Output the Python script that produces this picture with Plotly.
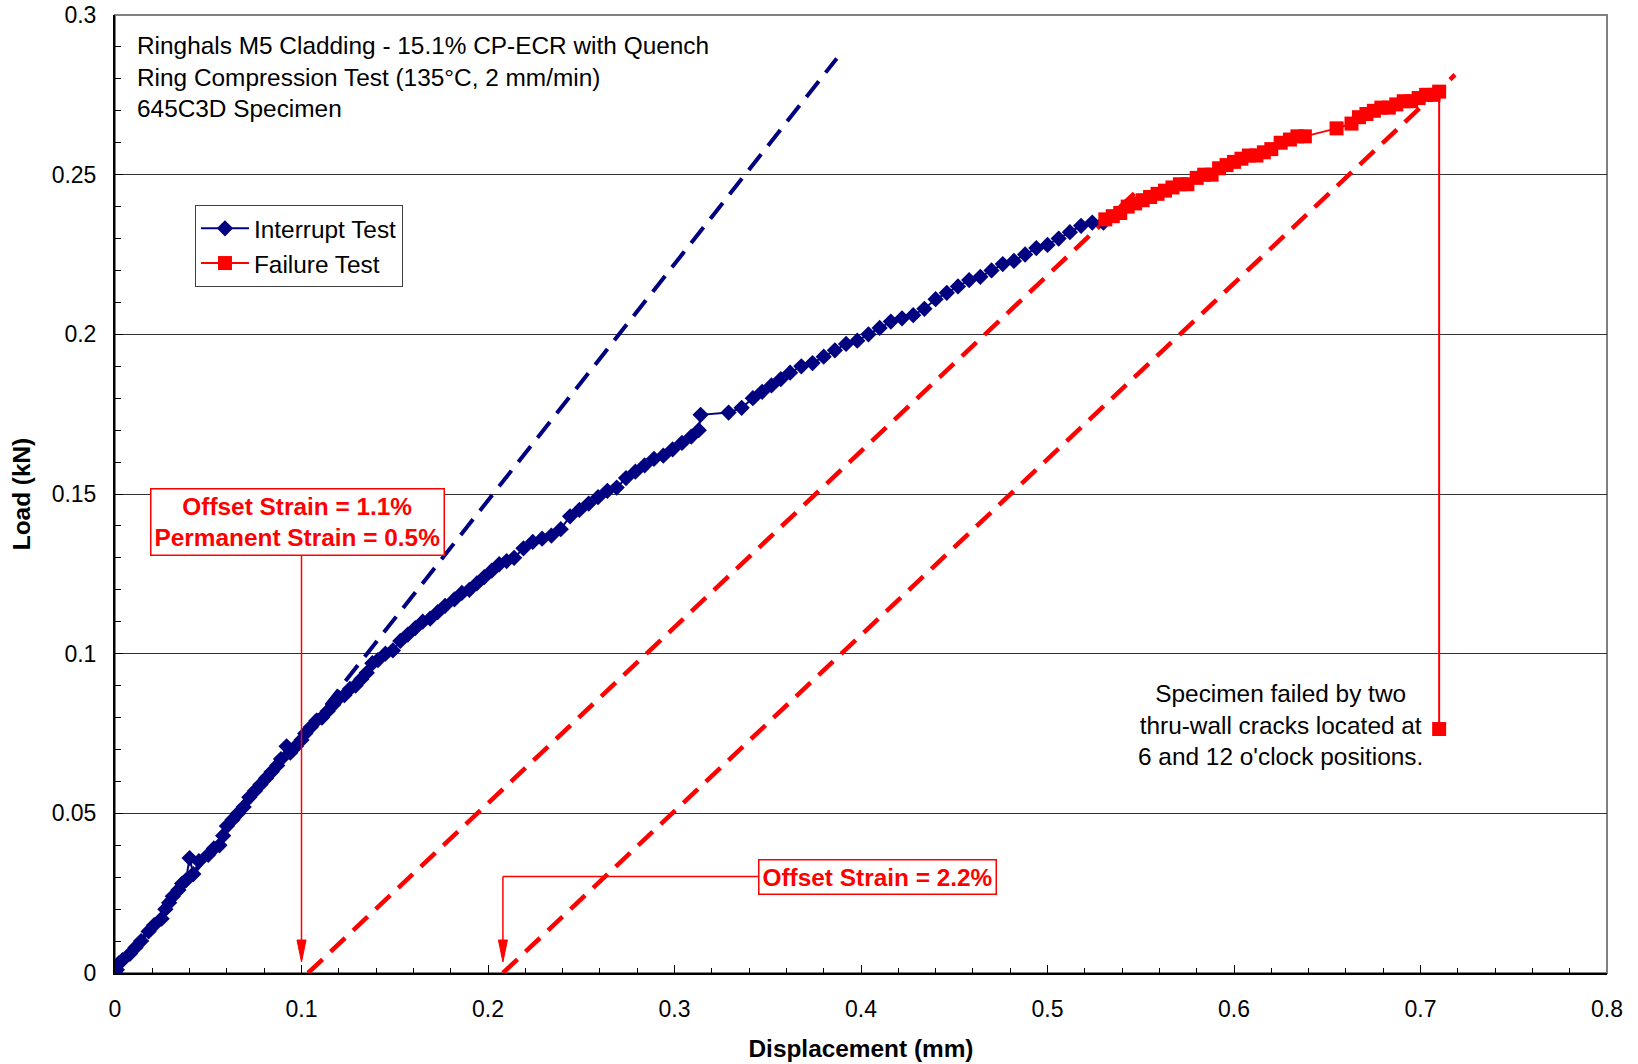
import plotly.graph_objects as go

# ---------------- data ----------------
interrupt_x = [0.000, 0.000, 0.001, 0.002, 0.004, 0.008, 0.011, 0.014, 0.018, 0.021,
               0.025, 0.027, 0.029, 0.031, 0.034, 0.036, 0.038, 0.040, 0.042, 0.045,
               0.050, 0.053, 0.056, 0.058, 0.060, 0.063, 0.066, 0.069, 0.072, 0.075,
               0.078, 0.081, 0.084, 0.087, 0.089, 0.092, 0.094, 0.097, 0.100, 0.102,
               0.105, 0.108, 0.111, 0.114, 0.117, 0.120, 0.123, 0.126, 0.129, 0.132,
               0.135, 0.138, 0.141, 0.145, 0.149, 0.153, 0.157, 0.161, 0.165, 0.169,
               0.173, 0.177, 0.182, 0.186, 0.190, 0.194, 0.198, 0.202, 0.206, 0.210,
               0.214, 0.219, 0.224, 0.229, 0.234, 0.239, 0.244, 0.249, 0.254, 0.259,
               0.264, 0.269, 0.274, 0.279, 0.284, 0.289, 0.294, 0.299, 0.304, 0.309,
               0.313, 0.314, 0.329, 0.336, 0.342, 0.347, 0.352, 0.357, 0.362, 0.368,
               0.374, 0.380, 0.386, 0.392, 0.398, 0.404, 0.410, 0.416, 0.422, 0.428,
               0.434, 0.440, 0.446, 0.452, 0.458, 0.464, 0.470, 0.476, 0.482, 0.488,
               0.494, 0.500, 0.506, 0.512, 0.518, 0.524, 0.530]
interrupt_y = [0.000, 0.002, 0.001, 0.003, 0.004, 0.006, 0.008, 0.010, 0.013, 0.015,
               0.017, 0.020, 0.022, 0.024, 0.026, 0.028, 0.029, 0.036, 0.031, 0.035,
               0.037, 0.039, 0.040, 0.043, 0.046, 0.048, 0.050, 0.052, 0.055, 0.057,
               0.059, 0.061, 0.063, 0.065, 0.067, 0.071, 0.069, 0.071, 0.073, 0.075,
               0.077, 0.079, 0.080, 0.082, 0.084, 0.086, 0.087, 0.089, 0.090, 0.092,
               0.094, 0.097, 0.098, 0.100, 0.101, 0.104, 0.106, 0.108, 0.110, 0.111,
               0.113, 0.115, 0.117, 0.119, 0.120, 0.122, 0.124, 0.126, 0.128, 0.129,
               0.130, 0.133, 0.135, 0.136, 0.137, 0.139, 0.143, 0.145, 0.147, 0.149,
               0.151, 0.152, 0.155, 0.157, 0.159, 0.161, 0.162, 0.164, 0.166, 0.168,
               0.170, 0.1748, 0.1755, 0.177, 0.180, 0.182, 0.184, 0.186, 0.188, 0.190,
               0.191, 0.193, 0.195, 0.197, 0.198, 0.200, 0.202, 0.204, 0.205, 0.206,
               0.208, 0.211, 0.213, 0.215, 0.217, 0.218, 0.220, 0.222, 0.223, 0.225,
               0.227, 0.228, 0.230, 0.232, 0.234, 0.235, 0.235]

failure_x = [0.531, 0.535, 0.539, 0.543, 0.547, 0.551, 0.555, 0.559, 0.563, 0.567,
             0.571, 0.575, 0.580, 0.584, 0.588, 0.592, 0.596, 0.600, 0.604, 0.608,
             0.612, 0.616, 0.620, 0.625, 0.630, 0.634, 0.638, 0.655, 0.663, 0.667,
             0.671, 0.675, 0.679, 0.683, 0.687, 0.691, 0.695, 0.699, 0.703, 0.707,
             0.710, 0.710]
failure_y = [0.236, 0.237, 0.238, 0.240, 0.241, 0.242, 0.243, 0.244, 0.245, 0.246,
             0.247, 0.247, 0.249, 0.250, 0.250, 0.252, 0.253, 0.254, 0.255, 0.256,
             0.256, 0.257, 0.258, 0.260, 0.261, 0.262, 0.262, 0.2645, 0.266, 0.268,
             0.269, 0.270, 0.271, 0.271, 0.272, 0.273, 0.273, 0.274, 0.275, 0.275,
             0.276, 0.0764]

# reference lines
elastic_slope = 0.74          # kN/mm
elastic_x = [0.0, 0.387]
unload_slope = 0.551          # kN/mm
offset1_x = [0.1035, 0.5496]
offset2_x = [0.208, 0.7185]

# annotation anchors
arrow1_x = 0.100
arrow2_x = 0.208

x_tickvals = [0, 0.1, 0.2, 0.3, 0.4, 0.5, 0.6, 0.7, 0.8]
x_ticktext = ["0", "0.1", "0.2", "0.3", "0.4", "0.5", "0.6", "0.7", "0.8"]
y_tickvals = [0, 0.05, 0.1, 0.15, 0.2, 0.25, 0.3]
y_ticktext = ["0", "0.05", "0.1", "0.15", "0.2", "0.25", "0.3"]

NAVY = "#000080"
RED = "#FF0000"
FONT = "Liberation Sans, Arial, sans-serif"
TXT = 24.4

fig = go.Figure()

# dashed lines
fig.add_trace(go.Scatter(
    x=elastic_x, y=[elastic_slope * (v - elastic_x[0]) for v in elastic_x],
    mode="lines", line=dict(color=NAVY, width=4, dash="20px,11px"),
    showlegend=False, hoverinfo="skip"))
fig.add_trace(go.Scatter(
    x=offset1_x, y=[unload_slope * (v - offset1_x[0]) for v in offset1_x],
    mode="lines", line=dict(color=RED, width=4.5, dash="20px,11px"),
    showlegend=False, hoverinfo="skip"))
fig.add_trace(go.Scatter(
    x=offset2_x, y=[unload_slope * (v - offset2_x[0]) for v in offset2_x],
    mode="lines", line=dict(color=RED, width=4.5, dash="20px,11px"),
    showlegend=False, hoverinfo="skip"))

# data series
fig.add_trace(go.Scatter(
    x=interrupt_x, y=interrupt_y, mode="lines+markers", name="Interrupt Test",
    line=dict(color=NAVY, width=2),
    marker=dict(symbol="diamond", size=12.5, color=NAVY)))
fig.add_trace(go.Scatter(
    x=failure_x, y=failure_y, mode="lines+markers", name="Failure Test",
    line=dict(color=RED, width=2),
    marker=dict(symbol="square", size=14, color=RED)))

shapes = []
# plot frame (gray top/right)
shapes.append(dict(type="rect", xref="paper", yref="paper", x0=0, y0=0, x1=1, y1=1,
                   line=dict(color="#808080", width=2), layer="below"))

box1_y = 0.1411
box2_y = 0.0302
box2_x = 0.4086
tip_y = 0.0035
# arrow 1: box -> axis
shapes.append(dict(type="line", xref="x", yref="y", x0=arrow1_x, x1=arrow1_x,
                   y0=box1_y, y1=tip_y + 0.004, line=dict(color=RED, width=1.5)))
# arrow 2: box -> left -> down
shapes.append(dict(type="line", xref="x", yref="y", x0=box2_x, x1=arrow2_x,
                   y0=box2_y, y1=box2_y, line=dict(color=RED, width=1.5)))
shapes.append(dict(type="line", xref="x", yref="y", x0=arrow2_x, x1=arrow2_x,
                   y0=box2_y, y1=tip_y + 0.004, line=dict(color=RED, width=1.5)))
for ax_x in (arrow1_x, arrow2_x):
    shapes.append(dict(type="path", xref="x", yref="y", xsizemode="pixel",
                       ysizemode="pixel", xanchor=ax_x, yanchor=0,
                       path="M0,11 L-4.5,33 L4.5,33 Z",
                       fillcolor=RED, line=dict(color=RED, width=1)))

annotations = [
    dict(xref="paper", yref="paper", x=0.0135, y=0.984, xanchor="left", yanchor="top",
         align="left", showarrow=False, font=dict(size=TXT, color="black"),
         text="Ringhals M5 Cladding - 15.1% CP-ECR with Quench<br>"
              "Ring Compression Test (135°C, 2 mm/min)<br>645C3D Specimen"),
    dict(xref="x", yref="y", x=0.0976, y=box1_y, showarrow=False,
         text="<b>Offset Strain = 1.1%<br>Permanent Strain = 0.5%</b>",
         font=dict(size=TXT, color=RED), bgcolor="white", bordercolor=RED,
         borderwidth=1.5, borderpad=3),
    dict(xref="x", yref="y", x=box2_x, y=box2_y, showarrow=False,
         text="<b>Offset Strain = 2.2%</b>",
         font=dict(size=TXT, color=RED), bgcolor="white", bordercolor=RED,
         borderwidth=1.5, borderpad=3),
    dict(xref="x", yref="y", x=0.625, y=0.0777, showarrow=False, align="center",
         text="Specimen failed by two<br>thru-wall cracks located at<br>6 and 12 o'clock positions.",
         font=dict(size=TXT, color="black")),
]

fig.update_layout(
    width=1638, height=1064,
    margin=dict(l=115, r=31, t=15, b=91),
    paper_bgcolor="white", plot_bgcolor="white",
    font=dict(family=FONT, size=23, color="black"),
    shapes=shapes, annotations=annotations,
    legend=dict(x=0.0536, y=0.8017, xanchor="left", yanchor="top",
                bgcolor="white", bordercolor="#404040", borderwidth=1,
                font=dict(size=TXT), tracegroupgap=0, itemwidth=48),
    xaxis=dict(range=[0, 0.8], tickvals=x_tickvals, ticktext=x_ticktext,
               showgrid=False, zeroline=False, automargin=False,
               showline=True, linecolor="black", linewidth=2,
               ticks="inside", ticklen=8, tickwidth=1, tickcolor="black",
               ticklabelstandoff=14, tickfont=dict(size=23),
               minor=dict(dtick=0.02, ticks="inside", ticklen=5, tickcolor="black",
                          tickwidth=1, showgrid=False),
               title=dict(text="<b>Displacement (mm)</b>", font=dict(size=TXT), standoff=19)),
    yaxis=dict(range=[0, 0.3], tickvals=y_tickvals, ticktext=y_ticktext,
               showgrid=True, gridcolor="#333333", gridwidth=1, zeroline=False,
               automargin=False,
               showline=True, linecolor="black", linewidth=2,
               ticks="inside", ticklen=8, tickwidth=1, tickcolor="black",
               ticklabelstandoff=12, tickfont=dict(size=23),
               minor=dict(dtick=0.01, ticks="inside", ticklen=6, tickcolor="black",
                          tickwidth=1, showgrid=False),
               title=dict(text="<b>Load (kN)</b>", font=dict(size=TXT), standoff=14)),
)

# remove the browser's default 8px body margin so the figure fills the window
fig.write_html("out.html", config={"displayModeBar": False},
               post_script="document.body.style.margin='0px';")
